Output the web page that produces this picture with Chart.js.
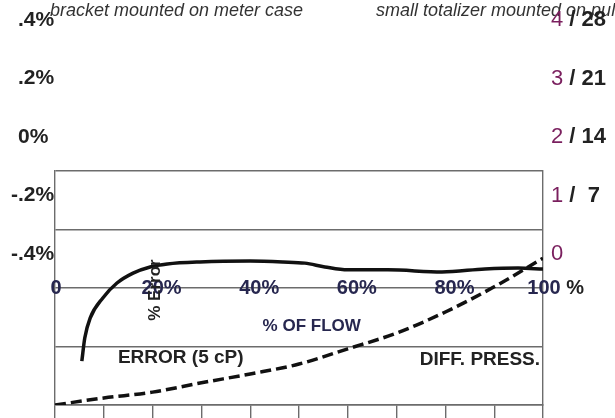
<!DOCTYPE html>
<html>
<head>
<meta charset="utf-8">
<script src="https://cdn.jsdelivr.net/npm/chart.js@4/dist/chart.umd.min.js"></script>
<style>
  html, body { margin: 0; padding: 0; background: #fff; }
  canvas { display: block; }
</style>
</head>
<body>
<canvas id="c" width="615" height="418"></canvas>
<script>
// ---- data ----
const errFlow = [5.5, 6.1, 7.2, 9.8, 12.7, 16, 19.5, 23, 29.7, 40, 46.7, 51.2, 55.3, 60, 68.2, 79.3, 88.1, 94.9, 100];
const errVals = [-0.25, -0.171, -0.103, -0.034, 0.017, 0.051, 0.072, 0.082, 0.089, 0.092, 0.089, 0.085, 0.072, 0.062, 0.062, 0.055, 0.065, 0.068, 0.065];
const dpFlow = [0, 10, 20, 30, 40, 50, 60, 70, 80, 90, 100];
const dpVals = [0, 0.12, 0.22, 0.38, 0.53, 0.70, 0.96, 1.23, 1.59, 2.02, 2.51];

const errTickVals = [0.4, 0.2, 0, -0.2, -0.4];
const errTickLabels = ['.4%', '.2%', '0%', '-.2%', '-.4%'];
const dpTickVals = [4, 3, 2, 1, 0];
const dpTickA = ['4', '3', '2', '1', '0'];
const dpTickB = [' / 28', ' / 21', ' / 14', ' /  7', ''];
const flowTickVals = [0, 20, 40, 60, 80, 100];
const flowTickLabels = ['0', '20%', '40%', '60%', '80%', '100'];
const notes = ['bracket mounted on meter case', 'small totalizer mounted on pulse'];
const flowTitle = '% OF FLOW';
const errTitle = 'ERROR (5 cP)';
const dpTitle = 'DIFF. PRESS.';
const errAxisTitle = '% Error';

const FONT = '"Liberation Sans", Arial, Helvetica, sans-serif';
const GRID = '#6c6c6c';
const NAVY = '#27274f';
const PURPLE = '#7a1f5e';
const DARK = '#222222';

const textPlugin = {
  id: 'texts',
  afterDraw(chart) {
    const { ctx, scales } = chart;
    const x = scales.x, y = scales.y, y2 = scales.y2;
    const shift = 151;
    ctx.save();
    // italic notes
    ctx.font = 'italic 18px ' + FONT;
    ctx.fillStyle = '#333';
    ctx.textAlign = 'left';
    ctx.textBaseline = 'alphabetic';
    ctx.fillText(notes[0], 50, 16);
    ctx.fillText(notes[1], 376, 16);

    // left error labels
    ctx.font = 'bold 21px ' + FONT;
    ctx.fillStyle = DARK;
    ctx.textBaseline = 'middle';
    errTickVals.forEach((v, i) => {
      const lbl = errTickLabels[i];
      const off = lbl.startsWith('-') ? ctx.measureText('-').width : 0;
      ctx.fillText(lbl, 18 - off, y.getPixelForValue(v) - shift);
    });

    // right diff press labels
    dpTickVals.forEach((v, i) => {
      const py = y2.getPixelForValue(v) - shift;
      ctx.font = '22px ' + FONT;
      ctx.fillStyle = PURPLE;
      ctx.fillText(dpTickA[i], 551, py);
      const w = ctx.measureText(dpTickA[i]).width;
      ctx.font = 'bold 22px ' + FONT;
      ctx.fillStyle = DARK;
      ctx.fillText(dpTickB[i], 551 + w, py);
    });

    // flow labels along the zero line
    const y0 = y.getPixelForValue(0);
    ctx.textAlign = 'center';
    flowTickVals.forEach((v, i) => {
      const off = (v === 0 || v === 100) ? 1 : 9;
      ctx.font = 'bold 20px ' + FONT;
      ctx.fillStyle = NAVY;
      const px = x.getPixelForValue(v) + off;
      ctx.fillText(flowTickLabels[i], px, y0);
      if (v === 100) {
        const w = ctx.measureText(flowTickLabels[i]).width;
        ctx.textAlign = 'left';
        ctx.fillStyle = DARK;
        ctx.fillText(' %', px + w / 2, y0);
        ctx.textAlign = 'center';
      }
    });

    // titles
    ctx.font = 'bold 17px ' + FONT;
    ctx.fillStyle = NAVY;
    ctx.textAlign = 'center';
    ctx.fillText(flowTitle, x.getPixelForValue(52.6), y.getPixelForValue(-0.13));

    ctx.font = 'bold 19px ' + FONT;
    ctx.fillStyle = DARK;
    ctx.textAlign = 'left';
    ctx.fillText(errTitle, x.getPixelForValue(12.9), y.getPixelForValue(-0.24));
    ctx.textAlign = 'right';
    ctx.fillText(dpTitle, x.getPixelForValue(99.4), y.getPixelForValue(-0.247));

    // rotated axis title
    ctx.save();
    ctx.translate(x.getPixelForValue(21.5), y.getPixelForValue(-0.112));
    ctx.rotate(-Math.PI / 2);
    ctx.font = 'bold 17px ' + FONT;
    ctx.textAlign = 'left';
    ctx.textBaseline = 'alphabetic';
    ctx.fillStyle = DARK;
    ctx.fillText(errAxisTitle, 0, 0);
    ctx.restore();

    ctx.restore();
  }
};

new Chart(document.getElementById('c'), {
  type: 'line',
  data: {
    datasets: [
      {
        label: 'Error',
        data: errFlow.map((f, i) => ({ x: f, y: errVals[i] })),
        yAxisID: 'y',
        borderColor: '#111',
        borderWidth: 3.5,
        pointRadius: 0,
        cubicInterpolationMode: 'monotone',
        fill: false
      },
      {
        label: 'Diff. press.',
        data: dpFlow.map((f, i) => ({ x: f, y: dpVals[i] })),
        yAxisID: 'y2',
        borderColor: '#111',
        borderWidth: 3.5,
        borderDash: [11, 5],
        pointRadius: 0,
        cubicInterpolationMode: 'monotone',
        fill: false
      }
    ]
  },
  options: {
    responsive: false,
    animation: false,
    devicePixelRatio: 1,
    layout: { padding: { left: 55, top: 171, right: 72, bottom: 0 } },
    plugins: { legend: { display: false }, tooltip: { enabled: false } },
    scales: {
      x: {
        type: 'linear',
        min: 0, max: 100,
        ticks: { display: false, stepSize: 10 },
        grid: { drawOnChartArea: false, drawTicks: true, tickLength: 13, color: GRID, lineWidth: 1.4 },
        border: { display: true, color: GRID, width: 1.4 }
      },
      y: {
        position: 'left',
        min: -0.4, max: 0.4,
        ticks: { display: false, stepSize: 0.2 },
        grid: { drawTicks: false, color: GRID, lineWidth: 1.4 },
        border: { display: true, color: GRID, width: 1.4 }
      },
      y2: {
        position: 'right',
        min: 0, max: 4,
        ticks: { display: false, stepSize: 1 },
        grid: { drawOnChartArea: false, drawTicks: false },
        border: { display: true, color: GRID, width: 1.4 }
      }
    }
  },
  plugins: [textPlugin]
});
</script>
</body>
</html>
